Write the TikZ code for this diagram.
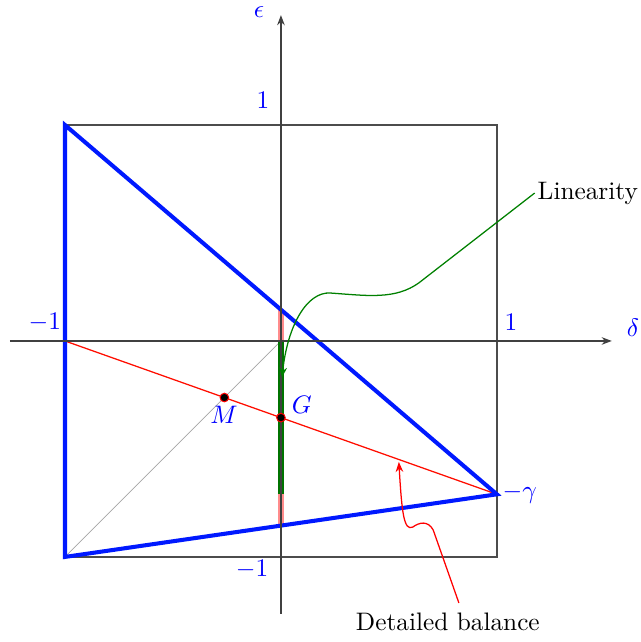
\documentclass[tikz,border=0pt]{standalone}
\usetikzlibrary{arrows.meta}
\begin{document}
\begin{tikzpicture}[x=3cm,y=3cm,
  lbl/.style={text=blue,inner sep=0pt},
  tri/.style={blue!90!cyan,line width=1.6pt},
  axis/.style={black!75,line width=0.5pt,-{Stealth[length=4pt,width=3pt]}},
  pt/.style={circle,fill=black,draw=red,line width=0.4pt,inner sep=0pt,minimum size=3.4pt}]
\def\g{0.71}
\useasboundingbox (-1.301,-1.394) rectangle (1.667,1.579);
% frame
\draw[black!70,line width=0.5pt] (-1,-1) rectangle (1,1);
% gray diagonal
\coordinate (O) at (0,0);
\coordinate (A) at (-1,1);
\coordinate (B) at (-1,-1);
\coordinate (C) at (1,-\g);
\coordinate (L) at (-1,0);
\draw[black!35,line width=0.3pt] (B) -- (O);
% red line
\draw[red!90!orange,line width=0.5pt] (L) -- (C);
% red thick segment
\coordinate (Rt) at (0,{1-(1+\g)/2});
\coordinate (Rb) at (0,{-(1+\g)/2});
\coordinate (Gb) at (0,-\g);
\draw[red,opacity=0.45,line width=2.6pt] (Rt) -- (Rb);
\draw[green!45!black,line width=2.6pt] (O) -- (Gb);
% triangle
\draw[tri,line cap=round] (A) -- (C) -- (B) -- cycle;
% axes
\draw[axis] (-1.255,0) -- (1.532,0);
\draw[axis] (0,-1.264) -- (0,1.509);
% labels
\node[lbl] at (-0.102,1.523) {$\epsilon$};
\node[lbl] at (1.630,0.060) {$\delta$};
\node[lbl] at (-0.083,1.116) {$1$};
\node[lbl] at (-1.093,0.088) {$-1$};
\node[lbl] at (1.065,0.088) {$1$};
\node[lbl] at (-0.134,-1.060) {$-1$};
\node[lbl] at (1.106,-0.708) {$-\gamma$};
% points
\coordinate (Mc) at ({-\g/(2+\g)},{-\g/(2+\g)});
\coordinate (Gc) at (0,{-\g/2});
\node[pt] (M) at (Mc) {};
\node[pt] (G) at (Gc) {};
\node[lbl] at (-0.264,-0.343) {$M$};
\node[lbl] at (0.097,-0.296) {$G$};
% annotations
\node[inner sep=1pt] (lin) at (1.421,0.685) {Linearity};
\node[inner sep=1pt] (db) at (0.773,-1.301) {Detailed balance};
\coordinate (linend) at (0.005,-0.17);
\coordinate (dbend) at (0.546,-0.56);
\draw[green!50!black,line width=0.5pt,-{Stealth[length=4pt,width=3pt]}]
  (lin.west) -- (0.64,0.27) .. controls (0.53,0.19) and (0.40,0.21) .. (0.23,0.222)
  .. controls (0.12,0.23) and (0.03,0.07) .. (linend);
\draw[red,line width=0.5pt,-{Stealth[length=4pt,width=3pt]}]
  (0.824,-1.213) -- (0.705,-0.875) .. controls (0.68,-0.83) and (0.64,-0.84) .. (0.61,-0.862)
  .. controls (0.57,-0.88) and (0.56,-0.80) .. (dbend);
\end{tikzpicture}
\end{document}
